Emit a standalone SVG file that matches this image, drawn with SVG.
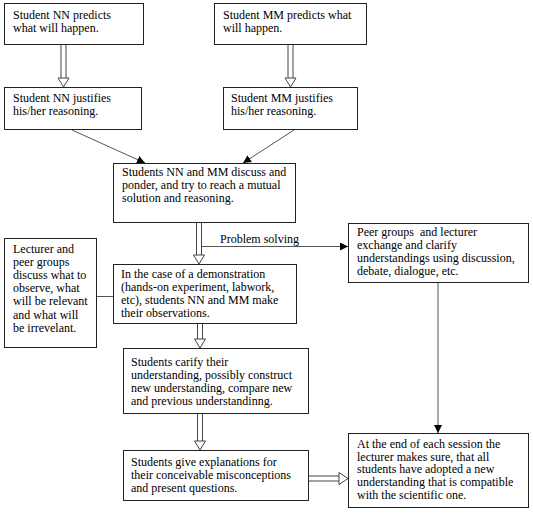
<svg xmlns="http://www.w3.org/2000/svg" width="533" height="514" viewBox="0 0 533 514">
<defs>
<style>
.box{fill:#fff;stroke:#222;stroke-width:1}
text{font-family:"Liberation Serif","Times New Roman",serif;font-size:12px;fill:#000}
.ln{stroke:#555;stroke-width:1;fill:none}
.dl{stroke:#444;stroke-width:1;fill:none}
.tri{fill:#fff;stroke:#444;stroke-width:1}
</style>
<marker id="ah" viewBox="0 0 10 10" refX="10" refY="5" markerWidth="8" markerHeight="8" markerUnits="userSpaceOnUse" orient="auto">
<path d="M0,0 L10,5 L0,10 Z" fill="#000"/>
</marker>
</defs>
<rect width="533" height="514" fill="#fff"/>

<g id="connectors">
<line class="ln" x1="72" y1="130" x2="145" y2="163" marker-end="url(#ah)"/>
<line class="ln" x1="294" y1="130" x2="243" y2="163" marker-end="url(#ah)"/>
<line class="ln" x1="201.5" y1="246.5" x2="348" y2="246.5" marker-end="url(#ah)"/>
<line class="ln" x1="438" y1="282" x2="438" y2="433" marker-end="url(#ah)"/>
<line class="ln" x1="97" y1="296.5" x2="113" y2="296.5"/>
<g id="da1"><path class="dl" d="M61,45 V78 M66,45 V78"/><path class="tri" d="M58,78 H69 L63.5,87 Z"/></g>
<g id="da2"><path class="dl" d="M288,45 V78 M293,45 V78"/><path class="tri" d="M285,78 H296 L290.5,87 Z"/></g>
<g id="da3"><path class="dl" d="M196.5,222 V255 M201.5,222 V255"/><path class="tri" d="M193.5,255 H204.5 L199,264 Z"/></g>
<g id="da4"><path class="dl" d="M197.5,323 V339 M202.5,323 V339"/><path class="tri" d="M194.5,339 H205.5 L200,348 Z"/></g>
<g id="da5"><path class="dl" d="M197.5,413 V441 M202.5,413 V441"/><path class="tri" d="M194.5,441 H205.5 L200,450 Z"/></g>
<g id="da6"><path class="dl" d="M309,476 H339 M309,481 H339"/><path class="tri" d="M339,472.5 V484.5 L348,478.5 Z"/></g>
</g>
<text x="220" y="243">Problem solving</text>

<g id="n1"><rect class="box" x="4.5" y="3.5" width="139" height="41"/>
<text x="13" y="18.5">Student NN predicts</text><text x="13" y="31.5">what will happen.</text></g>

<g id="n2"><rect class="box" x="214.5" y="3.5" width="152" height="41"/>
<text x="223" y="18.5">Student MM predicts what</text><text x="223" y="31.5">will happen.</text></g>

<g id="n3"><rect class="box" x="4.5" y="87.5" width="137" height="42"/>
<text x="13" y="101.5">Student NN justifies</text><text x="13" y="114.5">his/her reasoning.</text></g>

<g id="n4"><rect class="box" x="223.5" y="87.5" width="134" height="42"/>
<text x="231" y="101.5">Student MM justifies</text><text x="231" y="114.5">his/her reasoning.</text></g>

<g id="n5"><rect class="box" x="113.5" y="163.5" width="182" height="59"/>
<text x="122" y="176">Students NN and MM discuss and</text><text x="122" y="189">ponder, and try to reach a mutual</text><text x="122" y="202">solution and reasoning.</text></g>

<g id="n6"><rect class="box" x="113.5" y="264.5" width="183" height="59"/>
<text x="121" y="278">In the case of a demonstration</text><text x="121" y="291">(hands-on experiment, labwork,</text><text x="121" y="304">etc), students NN and MM make</text><text x="121" y="317">their observations.</text></g>

<g id="n7"><rect class="box" x="348.5" y="223.5" width="180" height="59"/>
<text x="357" y="236" xml:space="preserve">Peer groups  and lecturer</text><text x="357" y="249">exchange and clarify</text><text x="357" y="262">understandings using discussion,</text><text x="357" y="275">debate, dialogue, etc.</text></g>

<g id="n8"><rect class="box" x="4.5" y="238.5" width="92" height="109"/>
<text x="13" y="252.5">Lecturer and</text><text x="13" y="265.7">peer groups</text><text x="13" y="278.9">discuss what to</text><text x="13" y="292.1">observe, what</text><text x="13" y="305.3">will be relevant</text><text x="13" y="318.5">and what will</text><text x="13" y="331.7">be irrevelant.</text></g>

<g id="n9"><rect class="box" x="123.5" y="348.5" width="185" height="65"/>
<text x="131" y="366">Students carify their</text><text x="131" y="379">understanding, possibly construct</text><text x="131" y="392">new understanding, compare new</text><text x="131" y="405">and previous understandinng.</text></g>

<g id="n10"><rect class="box" x="123.5" y="450.5" width="185" height="50"/>
<text x="131" y="466">Students give explanations for</text><text x="131" y="479">their conceivable misconceptions</text><text x="131" y="492">and present questions.</text></g>

<g id="n11"><rect class="box" x="348.5" y="433.5" width="180" height="74"/>
<text x="357" y="448">At the end of each session the</text><text x="357" y="460.7">lecturer makes sure, that all</text><text x="357" y="473.4">students have adopted a new</text><text x="357" y="486.1">understanding that is compatible</text><text x="357" y="498.8">with the scientific one.</text></g>
</svg>
